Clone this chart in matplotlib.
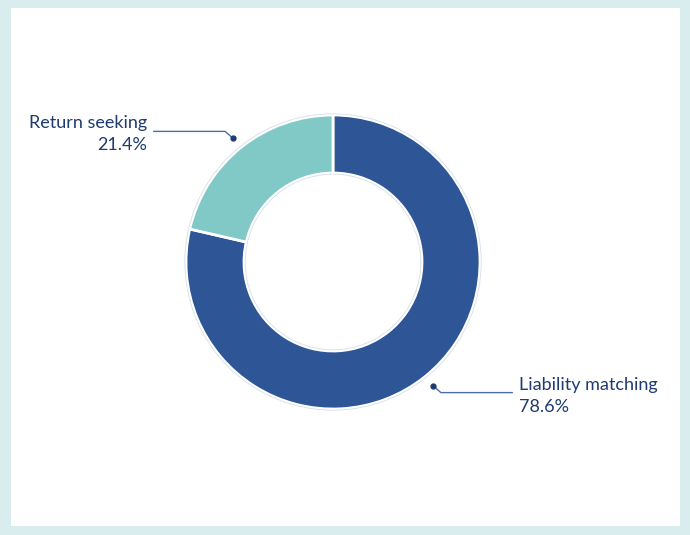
import numpy as np
import matplotlib
matplotlib.use("Agg")
import matplotlib.pyplot as plt

labels = ["Liability matching", "Return seeking"]
values = [78.6, 21.4]
colors = ["#2e5596", "#80c9c6"]
text_color = "#1f3b6f"
line_color = "#4a6fa8"

W, H = 690, 535
fig = plt.figure(figsize=(W / 100, H / 100), dpi=100)
fig.patch.set_facecolor("#d9ecee")
# white panel
panel = fig.add_axes([11 / W, 1 - 525.5 / H, (680 - 11) / W, (525.5 - 8) / H])
panel.set_facecolor("white")
panel.set_xticks([]); panel.set_yticks([])
for s in panel.spines.values():
    s.set_visible(False)

ax = fig.add_axes([0, 0, 1, 1])
ax.patch.set_alpha(0)

cx, cy = 333, H - 262
R = 147
width = 58

wedges, _ = ax.pie(values, colors=colors, startangle=90, counterclock=False,
                   center=(cx, cy), radius=R,
                   wedgeprops=dict(width=width, edgecolor="white", linewidth=2))
# faint outline
for r in (R + 1.2, R - width - 1.2):
    circ = plt.Circle((cx, cy), r, fill=False, edgecolor="#d6deea", linewidth=0.6)
    ax.add_patch(circ)

for w, lab, val in zip(wedges, labels, values):
    ang = np.deg2rad((w.theta1 + w.theta2) / 2 + 0.0)
    ux, uy = np.cos(ang), np.sin(ang)
    side = 1 if ux > 0 else -1
    dot = (cx + 158 * ux + side * 1.5, cy + 158 * uy + (1.5 if uy > 0 else -1.5) * 0)
    elbow = (dot[0] + side * 8, dot[1] + (7 if uy > 0 else -7))
    end = (elbow[0] + side * 72, elbow[1])
    ax.plot([dot[0], elbow[0], end[0]], [dot[1], elbow[1], end[1]],
            color=line_color, lw=1.0, solid_capstyle="butt")
    ax.plot(*dot, marker="o", ms=3.5, color="#1f3b6f")
    ha = "left" if side > 0 else "right"
    tx = end[0] + side * 6
    ax.text(tx, end[1] + 8, lab, ha=ha, va="center", fontsize=13,
            color=text_color, family="Lato")
    ax.text(tx, end[1] - 14, f"{val}%", ha=ha, va="center", fontsize=13,
            color=text_color, family="Lato")

ax.set_xlim(0, W)
ax.set_ylim(0, H)
ax.set_aspect("equal")
ax.axis("off")

fig.savefig("out.png", dpi=100, facecolor=fig.get_facecolor())
